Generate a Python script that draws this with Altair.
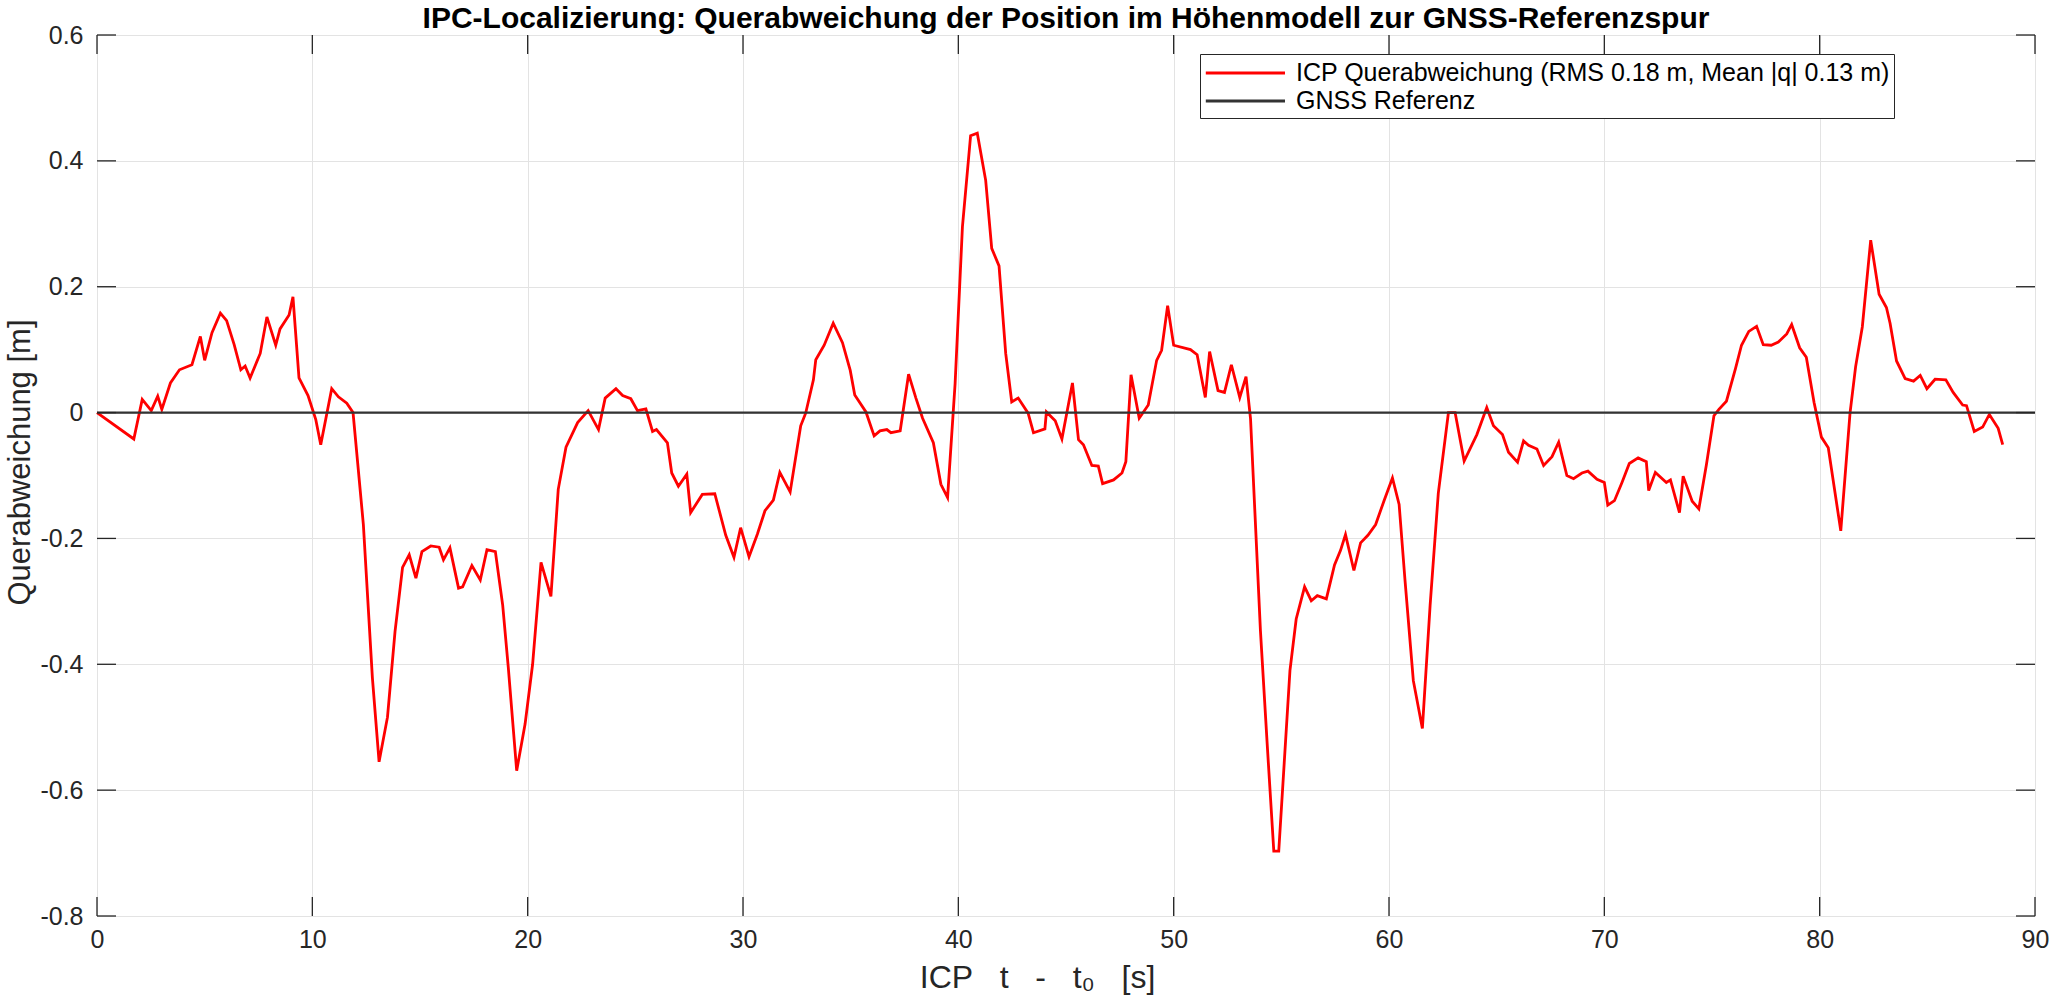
import altair as alt
import pandas as pd

# ---------------- data ----------------
t = [0.00, 1.71, 2.10, 2.52, 2.82, 3.01, 3.41, 3.83, 4.41, 4.80, 5.00, 5.34, 5.73, 6.02, 6.37, 6.68, 6.88, 7.11,
     7.58, 7.89, 8.30, 8.50, 8.92, 9.10, 9.38, 9.80, 10.16, 10.39, 10.90, 11.21, 11.60, 11.89, 12.37, 12.79,
     13.10, 13.49, 13.84, 14.19, 14.50, 14.81, 15.09, 15.50, 15.89, 16.09, 16.39, 16.79, 16.98, 17.41, 17.80,
     18.11, 18.50, 18.84, 19.10, 19.49, 19.88, 20.23, 20.62, 21.08, 21.42, 21.78, 22.32, 22.81, 23.29, 23.60,
     24.10, 24.41, 24.79, 25.10, 25.49, 25.80, 25.98, 26.49, 26.69, 27.00, 27.39, 27.57, 28.11, 28.69, 29.20,
     29.58, 29.89, 30.28, 30.67, 31.02, 31.41, 31.71, 32.19, 32.68, 32.91, 33.27, 33.38, 33.77, 34.19, 34.62,
     34.98, 35.19, 35.71, 36.09, 36.36, 36.68, 36.87, 37.30, 37.69, 38.03, 38.34, 38.84, 39.19, 39.50, 39.85,
     40.19, 40.57, 40.88, 41.27, 41.55, 41.89, 42.20, 42.48, 42.78, 43.24, 43.49, 44.02, 44.09, 44.50, 44.81,
     45.30, 45.58, 45.81, 46.20, 46.50, 46.70, 47.21, 47.60, 47.78, 48.02, 48.40, 48.82, 49.21, 49.44, 49.72,
     50.00, 50.78, 51.09, 51.47, 51.67, 52.06, 52.36, 52.68, 53.07, 53.36, 53.57, 54.03, 54.34, 54.65, 54.88,
     55.40, 55.69, 56.08, 56.39, 56.67, 57.09, 57.47, 57.75, 57.98, 58.37, 58.68, 59.02, 59.38, 59.77, 60.16,
     60.47, 60.74, 61.13, 61.55, 61.91, 62.29, 62.76, 63.07, 63.49, 64.08, 64.54, 64.85, 65.27, 65.55, 65.97,
     66.25, 66.48, 66.87, 67.18, 67.57, 67.88, 68.26, 68.57, 68.96, 69.24, 69.66, 70.00, 70.16, 70.47, 70.82,
     71.16, 71.57, 71.95, 72.06, 72.37, 72.88, 73.07, 73.49, 73.66, 74.08, 74.39, 74.74, 75.09, 75.32, 75.67,
     76.09, 76.37, 76.71, 77.07, 77.38, 77.75, 78.08, 78.47, 78.70, 79.07, 79.38, 79.74, 80.08, 80.40, 80.98,
     81.41, 81.67, 81.98, 82.37, 82.76, 83.10, 83.27, 83.57, 83.97, 84.36, 84.67, 84.98, 85.36, 85.86, 86.20,
     86.64, 86.82, 87.18, 87.57, 87.88, 88.29, 88.50]

q = [0.000, -0.042, 0.021, 0.003, 0.026, 0.005, 0.047, 0.068, 0.076, 0.121, 0.083, 0.127, 0.158, 0.146, 0.108,
     0.068, 0.074, 0.055, 0.094, 0.152, 0.107, 0.133, 0.155, 0.184, 0.055, 0.027, -0.011, -0.051, 0.038, 0.025,
     0.015, 0.000, -0.178, -0.422, -0.555, -0.484, -0.348, -0.246, -0.226, -0.263, -0.221, -0.212, -0.214,
     -0.234, -0.215, -0.279, -0.277, -0.243, -0.266, -0.218, -0.221, -0.306, -0.405, -0.569, -0.495, -0.400,
     -0.238, -0.292, -0.122, -0.055, -0.016, 0.003, -0.027, 0.023, 0.038, 0.027, 0.022, 0.003, 0.006, -0.030,
     -0.027, -0.048, -0.096, -0.117, -0.098, -0.159, -0.130, -0.129, -0.195, -0.230, -0.183, -0.229, -0.193,
     -0.156, -0.139, -0.095, -0.126, -0.021, -0.001, 0.052, 0.084, 0.107, 0.142, 0.111, 0.067, 0.028, 0.001,
     -0.037, -0.029, -0.027, -0.032, -0.029, 0.061, 0.023, -0.009, -0.048, -0.114, -0.135, 0.046, 0.295, 0.440,
     0.444, 0.369, 0.261, 0.233, 0.094, 0.017, 0.023, -0.001, -0.032, -0.026, 0.001, -0.013, -0.042, 0.047,
     -0.043, -0.051, -0.084, -0.085, -0.113, -0.107, -0.096, -0.078, 0.060, -0.009, 0.012, 0.083, 0.099, 0.170,
     0.107, 0.100, 0.092, 0.024, 0.097, 0.035, 0.032, 0.076, 0.024, 0.057, -0.010, -0.347, -0.525, -0.697,
     -0.697, -0.410, -0.328, -0.277, -0.299, -0.291, -0.296, -0.242, -0.219, -0.194, -0.251, -0.207, -0.195,
     -0.178, -0.140, -0.104, -0.146, -0.265, -0.426, -0.502, -0.306, -0.128, 0.000, 0.000, -0.077, -0.035,
     0.008, -0.021, -0.035, -0.063, -0.079, -0.045, -0.052, -0.058, -0.084, -0.070, -0.047, -0.100, -0.105,
     -0.096, -0.093, -0.106, -0.111, -0.147, -0.140, -0.111, -0.081, -0.072, -0.078, -0.124, -0.095, -0.111,
     -0.107, -0.159, -0.101, -0.141, -0.153, -0.083, -0.005, 0.005, 0.018, 0.070, 0.107, 0.129, 0.137, 0.108,
     0.107, 0.112, 0.125, 0.140, 0.103, 0.088, 0.016, -0.039, -0.056, -0.188, -0.001, 0.073, 0.136, 0.274,
     0.188, 0.167, 0.142, 0.082, 0.054, 0.050, 0.059, 0.038, 0.053, 0.052, 0.032, 0.012, 0.011, -0.030, -0.023,
     -0.003, -0.025, -0.051]

gnss_t = [0.0, 90.0]
gnss_q = [0.0, 0.0]

x_ticks = [0, 10, 20, 30, 40, 50, 60, 70, 80, 90]
y_ticks = [-0.8, -0.6, -0.4, -0.2, 0.0, 0.2, 0.4, 0.6]

ICP = "ICP Querabweichung (RMS 0.18 m, Mean |q| 0.13 m)"
GNSS = "GNSS Referenz"
TITLE = "IPC-Localizierung: Querabweichung der Position im Höhenmodell zur GNSS-Referenzspur"
NB = "\u00a0"
XTITLE = f"ICP{NB} {NB}t{NB} {NB}-{NB} {NB}t\u2080{NB} {NB}[s]"
YTITLE = "Querabweichung [m]"

# ---------------- style ----------------
W, H = 1938, 881
FONT = "Liberation Sans"
AX = "#262626"
TICK = 19

icp_df = pd.DataFrame({"t": t, "q": q, "serie": ICP})
gnss_df = pd.DataFrame({"t": gnss_t, "q": gnss_q, "serie": GNSS})
xt_df = pd.DataFrame({"t": x_ticks})
yt_df = pd.DataFrame({"q": y_ticks})

xscale = alt.Scale(domain=[0, 90], nice=False, zero=False)
yscale = alt.Scale(domain=[-0.8, 0.6], nice=False, zero=False)

color = alt.Color(
    "serie:N",
    scale=alt.Scale(domain=[ICP, GNSS], range=["#ff0000", "#333333"]),
    legend=alt.Legend(
        title=None, orient="none", legendX=1103, legendY=19, direction="vertical",
        symbolType="M-1,0H5", symbolSize=697, symbolStrokeWidth=2.8,
        labelFont=FONT, labelFontSize=25, labelColor="#000000", labelOffset=62,
        labelLimit=1000,
        strokeColor=AX, fillColor="white", padding=4, rowPadding=0,
    ),
)

xaxis = alt.Axis(
    values=x_ticks, title=XTITLE, grid=True, ticks=False, domain=False,
    labelPadding=11, labelFontSize=25, labelFont=FONT, labelColor=AX, labelFlush=False,
    titleFont=FONT, titleFontSize=32, titleFontWeight="normal", titleColor=AX,
    titleY=61, titleBaseline="middle", titleX=940,
    gridColor="#e3e3e3", gridWidth=1,
)
yaxis = alt.Axis(
    values=y_ticks, title=YTITLE, grid=True, ticks=False, domain=False,
    labelPadding=14, labelFontSize=25, labelFont=FONT, labelColor=AX, labelFlush=False,
    labelExpr="datum.value == 0 ? '0' : replace(format(datum.value, '.1f'), '\u2212', '-')",
    titleFont=FONT, titleFontSize=31, titleFontWeight="normal", titleColor=AX,
    titleX=-77, titleY=427, titleBaseline="middle", titleAngle=-90,
    gridColor="#e3e3e3", gridWidth=1,
)

X = alt.X("t:Q", scale=xscale, axis=xaxis)
Y = alt.Y("q:Q", scale=yscale, axis=yaxis)

icp_line = alt.Chart(icp_df).mark_line(strokeWidth=2.8).encode(
    x=X, y=Y, color=color, order=alt.Order("t:Q"),
)

gnss_line = alt.Chart(gnss_df).mark_line(strokeWidth=2.2).encode(
    x=X, y=Y, color=color,
)

tick_bottom = alt.Chart(xt_df).mark_rule(color=AX, strokeWidth=1.3).encode(
    x=X, y=alt.value(H), y2=alt.value(H - TICK))
tick_top = alt.Chart(xt_df).mark_rule(color=AX, strokeWidth=1.3).encode(
    x=X, y=alt.value(0), y2=alt.value(TICK))
tick_left = alt.Chart(yt_df).mark_rule(color=AX, strokeWidth=1.3).encode(
    y=Y, x=alt.value(0), x2=alt.value(TICK))
tick_right = alt.Chart(yt_df).mark_rule(color=AX, strokeWidth=1.3).encode(
    y=Y, x=alt.value(W - TICK), x2=alt.value(W))

chart = alt.layer(icp_line, gnss_line, tick_bottom, tick_top, tick_left, tick_right).properties(
    width=W, height=H,
    autosize=alt.AutoSizeParams(type="none"),
    padding={"left": 97, "top": 35, "right": 18, "bottom": 83},
    title=alt.TitleParams(TITLE, font=FONT, fontSize=30, fontWeight="bold", color="#000000",
                          anchor="middle", frame="group", offset=-11),
).configure_view(
    stroke="#404040", strokeWidth=1.5,
).configure(background="white")

chart.save("out.html", embed_options={"renderer": "svg", "actions": False})
